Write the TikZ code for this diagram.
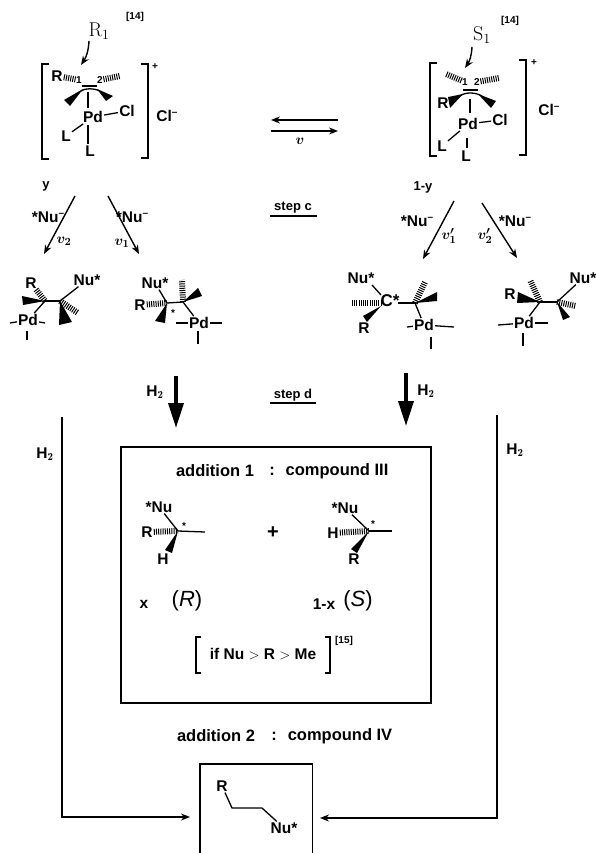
\documentclass[tikz,border=0pt]{standalone}
\usepackage{fontspec}
\setsansfont{Liberation Sans}
\usetikzlibrary{arrows.meta}
\tikzset{
    chem/.style={font=\sffamily\bfseries\fontsize{15.5}{16}\selectfont, inner sep=1pt},
    tiny chem/.style={font=\sffamily\bfseries\fontsize{10}{11}\selectfont, inner sep=0.5pt},
    label chem/.style={font=\sffamily\bfseries\fontsize{13}{13}\selectfont, inner sep=1pt},
    title/.style={font=\sffamily\bfseries\fontsize{16.5}{17}\selectfont, inner sep=1pt},
    serif/.style={font=\rmfamily\fontsize{20}{20}\selectfont, inner sep=1pt},
    rate/.style={font=\fontsize{15}{15}\selectfont\boldmath, inner sep=0pt},
    bond/.style={line width=1.3pt},
    hashbond/.style={line width=6pt, dash pattern=on 1pt off 1.2pt},
    arrow/.style={line width=1.4pt, -{Stealth[length=9pt,width=7pt]}},
    bigarrow/.style={line width=3.5pt, -{Triangle[length=25pt,width=15pt]}},
    frame/.style={line width=1.4pt}
}
\newcommand{\minus}{\raisebox{.7ex}{\fontsize{10}{10}\selectfont --}}
\begin{document}
\begin{tikzpicture}[x=1pt,y=-1pt]
    \useasboundingbox (0,0) rectangle (596,853);

    % left cation
    \node[serif] (labelR) at (99,31) {R$_{\mathrm 1}$};
    \node[tiny chem] (refA) at (135,17) {[14]};
    \coordinate (allylA) at (81,65);
    \draw[arrow] (89,41) to[bend left=15] (allylA);
    \draw[frame] (49,64) -- (42,64) -- (42,159) -- (49,159);
    \draw[frame] (141,64) -- (148,64) -- (148,158) -- (141,158);
    \node[tiny chem] (plusA) at (155,67) {+};
    \node[chem] (clA) at (167,116) {Cl\minus};
    \node[chem] (rA) at (57,76) {R};
    \node[tiny chem] (oneA) at (79,80) {1};
    \node[tiny chem] (twoA) at (100,80) {2};
    \draw[hashbond] (rA) -- (oneA);
    \draw[hashbond] (twoA) -- (120,76);
    \draw[bond] (82,86) -- (97,86);
    \draw[bond] (81,91) .. controls (85,88) and (94,88) .. (100,91);
    \fill (83,89) -- (64,100) -- (70,106) -- cycle;
    \fill (97,89) -- (106,101) -- (113,96) -- cycle;
    \node[chem] (pdA) at (93,117) {Pd};
    \node[chem] (chlorA) at (127,111) {Cl};
    \node[chem] (lA) at (66,136) {L};
    \node[chem] (lB) at (90,151) {L};
    \coordinate (midA) at (88,92);
    \draw[bond] (midA) -- (88,108);
    \draw[bond] (pdA) -- (chlorA);
    \draw[bond] (pdA) -- (lA);
    \draw[bond] (88,125) -- (88,144);

    % right cation
    \node[serif] (labelS) at (482,35) {S$_{\mathrm 1}$};
    \node[tiny chem] (refB) at (510,21) {[14]};
    \coordinate (allylB) at (465,68);
    \draw[arrow] (472,47) to[bend left=15] (allylB);
    \draw[frame] (437,63) -- (430,63) -- (430,156) -- (437,156);
    \draw[frame] (519,60) -- (526,60) -- (526,155) -- (519,155);
    \node[tiny chem] (plusB) at (534,63) {+};
    \node[chem] (clB) at (549,110) {Cl\minus};
    \node[chem] (rB) at (443,103) {R};
    \node[tiny chem] (oneB) at (465,82) {1};
    \node[tiny chem] (twoB) at (477,82) {2};
    \draw[hashbond] (oneB) -- (446,74);
    \draw[hashbond] (twoB) -- (499,78);
    \draw[bond] (463,90) -- (478,90);
    \draw[bond] (460,96) .. controls (465,92) and (475,92) .. (482,96);
    \fill (463,94) -- (448,97) -- (450,108) -- cycle;
    \fill (478,94) -- (496,101) -- (491,108) -- cycle;
    \node[chem] (pdB) at (468,124) {Pd};
    \node[chem] (chlorB) at (500,120) {Cl};
    \node[chem] (lC) at (442,146) {L};
    \node[chem] (lD) at (466,156) {L};
    \draw[bond] (470,99) -- (470,113);
    \draw[bond] (pdB) -- (chlorB);
    \draw[bond] (pdB) -- (lC);
    \draw[bond] (467,138) -- (467,148);

    % equilibrium and step labels
    \coordinate (eqTopR) at (338,120);
    \coordinate (eqTopL) at (271,120);
    \coordinate (eqBotL) at (271,131);
    \coordinate (eqBotR) at (338,131);
    \draw[arrow] (eqTopR) -- (eqTopL);
    \draw[arrow] (eqBotL) -- (eqBotR);
    \node[rate] (rateEq) at (300,141) {$v$};
    \node[label chem] (stepC) at (293,208) {step c};
    \draw[bond] (270,216) -- (317,216);
    \node[label chem] (stepD) at (293,395) {step d};
    \draw[bond] (270,403) -- (316,403);

    % attack on the left cation
    \node[label chem] (ylabel) at (46,186) {y};
    \node[chem] (nuA) at (48,217) {*Nu\minus};
    \node[chem] (nuB) at (132,217) {*Nu\minus};
    \node[rate] (rateA) at (64,241) {$v_2$};
    \node[rate] (rateB) at (122,243) {$v_1$};
    \coordinate (attackA) at (75,196);
    \coordinate (tipA) at (44,254);
    \coordinate (attackB) at (108,196);
    \coordinate (tipB) at (139,254);
    \draw[arrow] (attackA) -- (tipA);
    \draw[arrow] (attackB) -- (tipB);

    % attack on the right cation
    \node[label chem] (ylabelB) at (423,187) {1-y};
    \node[chem] (nuC) at (417,221) {*Nu\minus};
    \node[chem] (nuD) at (515,221) {*Nu\minus};
    \node[rate] (rateC) at (449,236) {$v_1'$};
    \node[rate] (rateD) at (485,236) {$v_2'$};
    \coordinate (attackC) at (454,201);
    \coordinate (tipC) at (423,259);
    \coordinate (attackD) at (482,203);
    \coordinate (tipD) at (517,258);
    \draw[arrow] (attackC) -- (tipC);
    \draw[arrow] (attackD) -- (tipD);

    % first adduct
    \coordinate (cA) at (45,301);
    \coordinate (cB) at (60,301);
    \node[chem] (rC) at (31,283) {R};
    \node[chem] (nuE) at (87,280) {Nu*};
    \node[chem] (pdC) at (28,320) {Pd};
    \draw[hashbond] (rC) -- (cA);
    \draw[bond] (cA) -- (cB);
    \draw[bond] (cA) -- (pdC);
    \draw[bond] (cB) -- (nuE);
    \fill (cA) -- (22,296) -- (23,305) -- cycle;
    \fill (cB) -- (59,325) -- (72,322) -- cycle;
    \draw[hashbond] (cB) -- (78,313);
    \draw[bond] (10,323) -- (pdC);
    \draw[bond] (pdC) -- (45,323);
    \draw[bond] (27,331) -- (27,340);

    % second adduct
    \coordinate (cC) at (167,303);
    \coordinate (cD) at (183,302);
    \node[chem] (nuF) at (155,283) {Nu*};
    \node[chem] (rD) at (140,305) {R};
    \node[tiny chem] (starA) at (173,313) {*};
    \node[chem] (pdD) at (199,323) {Pd};
    \draw[bond] (nuF) -- (cC);
    \draw[hashbond] (rD) -- (cC);
    \fill (cC) -- (155,321) -- (165,323) -- cycle;
    \draw[bond] (cC) -- (cD);
    \draw[hashbond] (cD) -- (182,280);
    \fill (cD) -- (198,288) -- (202,296) -- cycle;
    \draw[bond] (cD) -- (pdD);
    \draw[bond] (176,323) -- (pdD);
    \draw[bond] (pdD) -- (222,323);
    \draw[bond] (198,331) -- (198,344);

    % third adduct
    \coordinate (cF) at (415,303);
    \node[chem] (nuG) at (361,278) {Nu*};
    \node[chem, font=\sffamily\bfseries\fontsize{17}{17}\selectfont] (cE) at (390,301) {C*};
    \node[chem] (rE) at (364,328) {R};
    \node[chem] (pdE) at (424,325) {Pd};
    \draw[bond] (372,285) -- (381,295);
    \draw[hashbond] (352,303) -- (381,303);
    \fill (381,306) -- (363,316) -- (367,322) -- cycle;
    \draw[bond] (398,303) -- (cF);
    \draw[hashbond] (cF) -- (425,282);
    \fill (cF) -- (437,292) -- (437,301) -- cycle;
    \draw[bond] (cF) -- (pdE);
    \draw[bond] (407,327) -- (pdE);
    \draw[bond] (pdE) -- (454,327);
    \draw[bond] (431,337) -- (431,349);

    % fourth adduct
    \coordinate (cG) at (540,302);
    \coordinate (cH) at (557,302);
    \node[chem] (rF) at (510,294) {R};
    \node[chem] (nuH) at (583,278) {Nu*};
    \node[chem] (pdF) at (524,323) {Pd};
    \fill (cG) -- (518,292) -- (517,303) -- cycle;
    \draw[hashbond] (cG) -- (530,280);
    \draw[bond] (cG) -- (cH);
    \draw[bond] (cG) -- (pdF);
    \draw[bond] (498,325) -- (pdF);
    \draw[bond] (pdF) -- (548,323);
    \draw[bond] (523,333) -- (523,346);
    \fill (cH) -- (563,320) -- (570,317) -- cycle;
    \draw[bond] (cH) -- (nuH);
    \draw[hashbond] (cH) -- (576,306);

    % hydrogenation arrows
    \coordinate (downA) at (176,376);
    \coordinate (downTipA) at (176,428);
    \coordinate (downB) at (406,373);
    \coordinate (downTipB) at (406,426);
    \draw[bigarrow] (downA) -- (downTipA);
    \draw[bigarrow] (downB) -- (downTipB);
    \node[chem] (hA) at (155,392) {H$_{\mathbf 2}$};
    \node[chem] (hB) at (426,391) {H$_{\mathbf 2}$};

    % addition 1 box
    \node[frame, draw, minimum width=310pt, minimum height=256pt, inner sep=0pt] (boxOne) at (276,575) {};
    \node[title] (addOne) at (215,471) {addition 1};
    \node[title] (colonA) at (272,471) {:};
    \node[title] (cmpdA) at (337,471) {compound III};

    % products in the box
    \coordinate (cI) at (178,531);
    \node[chem] (nuI) at (159,507) {*Nu};
    \node[chem] (rG) at (147,532) {R};
    \node[chem] (hC) at (163,559) {H};
    \node[tiny chem] (starB) at (184,526) {*};
    \coordinate (endI) at (205,532);
    \draw[bond] (nuI) -- (cI);
    \draw[hashbond] (rG) -- (cI);
    \fill (cI) -- (165,550) -- (172,553) -- cycle;
    \draw[bond] (cI) -- (endI);
    \node[chem, font=\sffamily\bfseries\fontsize{20}{20}\selectfont] (plusC) at (273,533) {+};
    \coordinate (cJ) at (369,531);
    \node[chem] (nuJ) at (345,508) {*Nu};
    \node[chem] (hD) at (333,533) {H};
    \node[chem] (rH) at (354,559) {R};
    \node[tiny chem] (starC) at (373,524) {*};
    \coordinate (endJ) at (392,531);
    \draw[bond] (nuJ) -- (cJ);
    \draw[hashbond] (hD) -- (cJ);
    \fill (cJ) -- (351,549) -- (357,553) -- cycle;
    \draw[bond] (cJ) -- (endJ);
    \node[chem] (fracX) at (144,604) {x};
    \node[chem, font=\sffamily\fontsize{22}{22}\selectfont] (confR) at (187,601) {(\textit{R})};
    \node[chem] (fracY) at (324,604) {1-x};
    \node[chem, font=\sffamily\fontsize{22}{22}\selectfont] (confS) at (358,601) {(\textit{S})};

    % priority note
    \draw[bond] (201,637) -- (196,637) -- (196,673) -- (201,673);
    \draw[bond] (325,637) -- (330,637) -- (330,673) -- (325,673);
    \node[chem] (prior) at (263,654) {if Nu $>$ R $>$ Me};
    \node[tiny chem] (refC) at (344,641) {[15]};

    % addition 2 title
    \node[title] (addTwo) at (216,736) {addition 2};
    \node[title] (colonB) at (274,736) {:};
    \node[title] (cmpdB) at (340,736) {compound IV};

    % addition 2 box, open at the bottom
    \node[minimum width=112pt, minimum height=89pt, inner sep=0pt] (boxTwo) at (256,808.5) {};
    \draw[frame] (boxTwo.south west) -- (boxTwo.north west) -- (boxTwo.north east) -- (boxTwo.south east);
    \node[chem] (rI) at (222,786) {R};
    \node[chem] (nuK) at (284,828) {Nu*};
    \draw[bond] (rI) -- (232,808) -- (262,808) -- (nuK);

    % long arrows to addition 2
    \coordinate (railA) at (62,417);
    \coordinate (railB) at (497,415);
    \coordinate (railEndA) at (190,817);
    \coordinate (railEndB) at (320,818);
    \draw[arrow] (railA) |- (railEndA);
    \draw[arrow] (railB) |- (railEndB);
    \node[chem] (hE) at (45,454) {H$_{\mathbf 2}$};
    \node[chem] (hF) at (515,450) {H$_{\mathbf 2}$};
\end{tikzpicture}
\end{document}
